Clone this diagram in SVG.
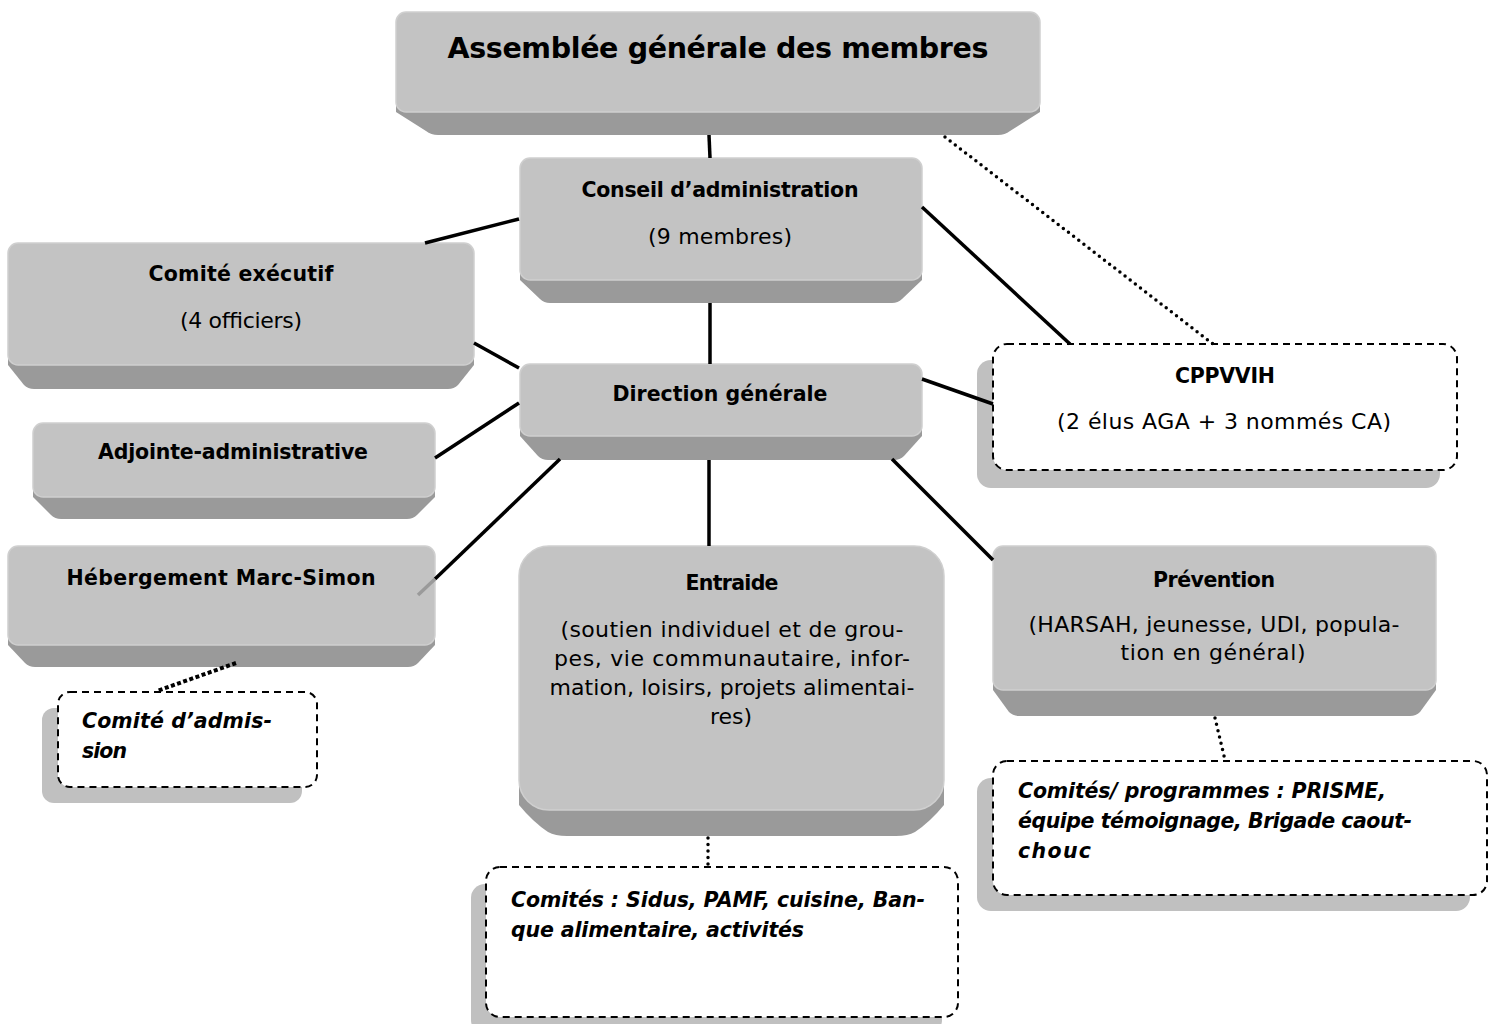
<svg xmlns="http://www.w3.org/2000/svg" width="1497" height="1024" viewBox="0 0 1497 1024">
<style>
.face{fill:#c3c3c3;stroke:#cfcfcf;stroke-width:1.5}
.bevel{fill:#9a9a9a}
.shadow{fill:#c0c0c0}
.dbox{fill:#fff;stroke:#000;stroke-width:2;stroke-dasharray:7 5}
.line{stroke:#000;stroke-width:3.5;fill:none}
.dot{stroke:#000;stroke-width:3.5;stroke-linecap:round;stroke-dasharray:0 6.5;fill:none}
.dotsq{stroke:#000;stroke-width:4;stroke-dasharray:4 2.5;fill:none}
text{font-family:"DejaVu Sans","Liberation Sans",sans-serif;fill:#000}
.ttl{font-weight:bold;font-size:28.5px}
.b{font-weight:bold;font-size:20.5px}
.r{font-size:22px}
.bi{font-weight:bold;font-style:italic;font-size:20.5px}
.c{text-anchor:middle}
</style>
<rect width="1497" height="1024" fill="#fff"/>

<g id="agm">
<path class="bevel" d="M396,100 L1040,100 L1040,112 L1010,131 Q1005,135 998,135 L438,135 Q431,135 426,131 L396,112 Z"/>
<rect class="face" x="396" y="12" width="644" height="100" rx="10"/>
<text class="ttl c" x="718" y="58" textLength="541">Assemblée générale des membres</text>
</g>

<g id="conseil">
<path class="bevel" d="M520,268 L922,268 L922,280 L902,299 Q898,303 892,303 L550,303 Q544,303 540,299 L520,280 Z"/>
<rect class="face" x="520" y="158" width="402" height="122" rx="10"/>
<text class="b c" x="720" y="197" textLength="277">Conseil d’administration</text>
<text class="r c" x="720" y="244" textLength="144">(9 membres)</text>
</g>

<g id="comite-executif">
<path class="bevel" d="M8,353 L474,353 L474,365 L458,385 Q454,389 448,389 L34,389 Q28,389 24,385 L8,365 Z"/>
<rect class="face" x="8" y="243" width="466" height="122" rx="10"/>
<text class="b c" x="241" y="281" textLength="185">Comité exécutif</text>
<text class="r c" x="241" y="328" textLength="122">(4 officiers)</text>
</g>

<g id="direction">
<path class="bevel" d="M520,424 L922,424 L922,436 L904,456 Q900,460 894,460 L548,460 Q542,460 538,456 L520,436 Z"/>
<rect class="face" x="520" y="364" width="402" height="72" rx="10"/>
<text class="b c" x="720" y="401" textLength="215">Direction générale</text>
</g>

<g id="adjointe">
<path class="bevel" d="M33,485 L435,485 L435,497 L417,515 Q413,519 407,519 L61,519 Q55,519 51,515 L33,497 Z"/>
<rect class="face" x="33" y="423" width="402" height="74" rx="10"/>
<text class="b c" x="233" y="459" textLength="270">Adjointe-administrative</text>
</g>

<g id="hebergement">
<path class="bevel" d="M8,633 L435,633 L435,645 L418,663 Q414,667 408,667 L35,667 Q29,667 25,663 L8,645 Z"/>
<rect class="face" x="8" y="546" width="427" height="99" rx="10"/>
<text class="b c" x="221" y="585" textLength="309">Hébergement Marc-Simon</text>
</g>

<g id="entraide">
<path class="bevel" d="M519,780 L944,780 L944,805 Q930,822 915,832 Q908,836 896,836 L567,836 Q555,836 548,832 Q533,822 519,805 Z"/>
<rect class="face" x="519" y="546" width="425" height="264" rx="30"/>
<text class="b c" x="732" y="590" textLength="93">Entraide</text>
<text class="r c" x="732" y="637" textLength="343">(soutien individuel et de grou-</text>
<text class="r c" x="732" y="666" textLength="356">pes, vie communautaire, infor-</text>
<text class="r c" x="732" y="695" textLength="365">mation, loisirs, projets alimentai-</text>
<text class="r c" x="731" y="724" textLength="42">res)</text>
</g>

<g id="prevention">
<path class="bevel" d="M993,678 L1436,678 L1436,690 L1420,712 Q1416,716 1410,716 L1019,716 Q1013,716 1009,712 L993,690 Z"/>
<rect class="face" x="993" y="546" width="443" height="144" rx="10"/>
<text class="b c" x="1214" y="587" textLength="122">Prévention</text>
<text class="r c" x="1214" y="632" textLength="371">(HARSAH, jeunesse, UDI, popula-</text>
<text class="r c" x="1213" y="660" textLength="185">tion en général)</text>
</g>

<g id="cppvvih">
<rect class="shadow" x="977" y="360" width="463" height="128" rx="14"/>
<rect class="dbox" x="993" y="344" width="464" height="126" rx="14"/>
<text class="b c" x="1225" y="383" textLength="100">CPPVVIH</text>
<text class="r c" x="1224" y="429" textLength="334">(2 élus AGA + 3 nommés CA)</text>
</g>

<g id="comite-admission">
<rect class="shadow" x="42" y="708" width="260" height="95" rx="12"/>
<rect class="dbox" x="58" y="692" width="259" height="95" rx="12"/>
<text class="bi" x="82" y="728" textLength="190">Comité d’admis-</text>
<text class="bi" x="82" y="758" textLength="45">sion</text>
</g>

<g id="comites-prevention">
<rect class="shadow" x="977" y="778" width="493" height="133" rx="14"/>
<rect class="dbox" x="993" y="761" width="494" height="134" rx="14"/>
<text class="bi" x="1018" y="798" textLength="368">Comités/ programmes : PRISME,</text>
<text class="bi" x="1018" y="828" textLength="394">équipe témoignage, Brigade caout-</text>
<text class="bi" x="1018" y="858" textLength="73">chouc</text>
</g>

<g id="comites-entraide">
<rect class="shadow" x="471" y="884" width="471" height="150" rx="14"/>
<rect class="dbox" x="486" y="867" width="472" height="150" rx="14"/>
<text class="bi" x="511" y="907" textLength="414">Comités : Sidus, PAMF, cuisine, Ban-</text>
<text class="bi" x="511" y="937" textLength="293">que alimentaire, activités</text>
</g>

<g id="connectors">
<line class="line" x1="709" y1="135" x2="710" y2="158"/>
<line class="line" x1="519" y1="219" x2="425" y2="243"/>
<line class="line" x1="710" y1="303" x2="710" y2="364"/>
<line class="line" x1="922" y1="207" x2="1070" y2="344"/>
<line class="line" x1="474" y1="343" x2="519" y2="368"/>
<line class="line" x1="519" y1="403" x2="435" y2="458"/>
<line class="line" x1="922" y1="379" x2="993" y2="404"/>
<line class="line" x1="560" y1="459" x2="435" y2="579"/>
<line x1="435" y1="579" x2="418" y2="595" stroke="#9a9a9a" stroke-width="3.5"/>
<line class="line" x1="709" y1="460" x2="709" y2="546"/>
<line class="line" x1="892" y1="459" x2="993" y2="560"/>
<line class="dot" x1="945" y1="137" x2="1213" y2="344"/>
<line class="dot" x1="708" y1="838" x2="708" y2="866"/>
<line class="dot" x1="1215" y1="718" x2="1225" y2="760"/>
<line class="dotsq" x1="236" y1="663" x2="157" y2="691"/>
</g>
</svg>
